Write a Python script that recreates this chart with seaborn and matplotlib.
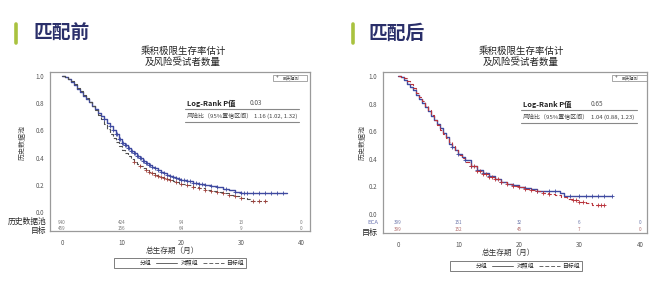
import numpy as np
import pandas as pd
import matplotlib
matplotlib.use("Agg")
import matplotlib.pyplot as plt
from matplotlib.lines import Line2D
import seaborn as sns

sns.set_theme(style="white")
plt.rcParams['font.family'] = ['Noto Sans CJK SC', 'DejaVu Sans']

# ---------------- data ----------------
panel_titles = ["匹配前", "匹配后"]
chart_title = "乘积极限生存率估计\n及风险受试者数量"
xlabel = "总生存期（月）"
ylabel = "历史数据池"
xticks = [0, 10, 20, 30, 40]
yticks = [0.0, 0.2, 0.4, 0.6, 0.8, 1.0]

# before matching: control (historical pool) KM
pre_ctrl_t = [0, 0.5, 1, 1.5, 2, 2.5, 3, 3.5, 4, 4.5, 5, 5.5, 6, 6.5, 7, 7.5, 8, 8.5, 9, 9.5,
              10, 10.5, 11, 11.5, 12, 12.5, 13, 13.5, 14, 14.5, 15, 15.5, 16, 16.5, 17, 17.5,
              18, 18.5, 19, 19.5, 20, 21, 22, 23, 24, 25, 26, 27, 28, 29, 30, 31.5, 37.6]
pre_ctrl_s = [1.0, 0.995, 0.975, 0.955, 0.93, 0.905, 0.88, 0.855, 0.83, 0.805, 0.78, 0.755, 0.73,
              0.705, 0.68, 0.655, 0.63, 0.60, 0.57, 0.54, 0.51, 0.49, 0.47, 0.45, 0.43, 0.41,
              0.395, 0.375, 0.36, 0.345, 0.33, 0.32, 0.305, 0.295, 0.285, 0.275, 0.265, 0.258,
              0.25, 0.244, 0.238, 0.226, 0.215, 0.205, 0.196, 0.19, 0.182, 0.17, 0.16, 0.15,
              0.142, 0.137, 0.137]
pre_ctrl_cens = [7, 8, 8.5, 9, 9.25, 9.5, 9.75, 10, 10.25, 10.5, 10.75, 11, 11.25, 11.5, 11.75, 12,
                 12.25, 12.5, 12.75, 13, 13.25, 13.5, 13.75, 14, 14.25, 14.5, 14.75, 15, 15.5, 16,
                 16.5, 17, 17.5, 18, 18.5, 19, 19.5, 20, 20.5, 21, 21.5, 22, 22.5, 23, 23.5, 24,
                 25, 26, 27.5, 29, 30, 30.5, 31, 32, 33, 34, 35, 36, 37]
# before matching: target KM
pre_tgt_t = [0, 0.5, 1, 1.5, 2, 2.5, 3, 3.5, 4, 4.5, 5, 5.5, 6, 6.5, 7, 7.5, 8, 8.5, 9, 9.5,
             10, 10.5, 11, 11.5, 12, 12.5, 13, 13.5, 14, 14.5, 15, 15.5, 16, 16.5, 17, 17.5,
             18, 18.5, 19, 19.5, 20, 21, 22, 23, 24, 25, 26, 27, 28, 29, 30, 31, 31.5, 34.3]
pre_tgt_s = [1.0, 0.995, 0.98, 0.96, 0.94, 0.915, 0.89, 0.86, 0.835, 0.81, 0.78, 0.75, 0.715,
             0.68, 0.645, 0.61, 0.575, 0.545, 0.515, 0.485, 0.455, 0.43, 0.41, 0.39, 0.37, 0.35,
             0.335, 0.32, 0.305, 0.295, 0.285, 0.275, 0.265, 0.255, 0.247, 0.24, 0.232, 0.225,
             0.218, 0.212, 0.206, 0.195, 0.185, 0.175, 0.165, 0.155, 0.15, 0.14, 0.125, 0.115,
             0.105, 0.095, 0.08, 0.08]
pre_tgt_cens = [12, 13, 14, 14.5, 15, 15.5, 16, 16.5, 17, 17.5, 18, 19, 20, 21, 22, 23, 24, 25,
                26, 27, 28, 29, 30, 32, 33, 34]

# after matching: ECA control KM
post_ctrl_t = [0, 0.5, 1, 1.5, 2, 2.5, 3, 3.5, 4, 4.5, 5, 5.5, 6, 6.5, 7, 7.5, 8, 8.5, 9, 9.5,
               10, 10.5, 11, 12, 13, 14, 15, 16, 17, 18, 19, 20, 21, 22, 23, 24, 26.8, 27.5, 35.4]
post_ctrl_s = [1.0, 0.99, 0.97, 0.945, 0.92, 0.895, 0.865, 0.835, 0.805, 0.775, 0.745, 0.71,
               0.68, 0.65, 0.62, 0.59, 0.555, 0.51, 0.485, 0.46, 0.435, 0.415, 0.39, 0.35, 0.32,
               0.295, 0.272, 0.252, 0.235, 0.22, 0.207, 0.196, 0.186, 0.178, 0.17, 0.165, 0.15,
               0.13, 0.13]
post_ctrl_cens = [9, 10, 11, 12, 13, 14, 15, 17, 19, 21, 23, 25, 26, 28.5, 30, 31, 32, 33, 34,
                  35.4]
# after matching: target KM
post_tgt_t = [0, 0.5, 1, 1.5, 2, 2.5, 3, 3.5, 4, 4.5, 5, 5.5, 6, 6.5, 7, 7.5, 8, 8.5, 9, 9.5,
              10, 10.5, 11, 12, 13, 14, 15, 16, 17, 18, 19, 20, 21, 22, 23, 24, 25, 26, 27, 28,
              29, 30, 31, 32, 34.2]
post_tgt_s = [1.0, 0.995, 0.985, 0.965, 0.94, 0.91, 0.88, 0.85, 0.82, 0.785, 0.75, 0.715, 0.68,
              0.645, 0.61, 0.58, 0.55, 0.52, 0.49, 0.46, 0.43, 0.405, 0.38, 0.345, 0.315, 0.29,
              0.27, 0.25, 0.233, 0.218, 0.205, 0.193, 0.182, 0.172, 0.163, 0.155, 0.148, 0.14,
              0.125, 0.11, 0.10, 0.09, 0.08, 0.065, 0.065]
post_tgt_cens = [12, 12.5, 13, 13.5, 14, 14.5, 15, 15.5, 16, 16.5, 17, 18, 19, 20, 21, 22, 23,
                 24, 25, 29, 29.5, 30, 30.5, 33, 33.5, 34]

# numbers at risk
pre_risk_ctrl = [940, 424, 94, 13, 0]
pre_risk_tgt = [459, 156, 64, 9, 0]
post_risk_ctrl = [399, 151, 32, 6, 0]
post_risk_tgt = [399, 152, 45, 7, 0]
risk_labels_pre = ["历史数据池", "目标"]
risk_labels_post = ["ECA", "目标"]

stats_rows = ["Log-Rank P值", "风险比（95%置信区间）"]
pre_stats = ["0.03", "1.16 (1.02, 1.32)"]
post_stats = ["0.65", "1.04 (0.88, 1.23)"]
legend_labels = ["分组", "对照组", "目标组"]
censor_label = "删失观测"

# ---------------- styling ----------------
W, H = 660, 288
NAVY = "#2a2f6a"
GREEN = "#a9c23f"
BLUE = "#3f4aa0"
RED = "#b8333b"
FRAME = "#9a9a9a"


def fx(px):
    return px / W


def fy(py):
    return 1 - py / H


def step_at(ts, ss, t):
    idx = np.searchsorted(np.asarray(ts), t, side="right") - 1
    return np.asarray(ss)[idx]


fig = plt.figure(figsize=(6.6, 2.88), dpi=100)
fig.patch.set_facecolor("white")

panels = [
    dict(rect=(50, 72, 310, 231), xlim=(-2.0, 41.5), ylim=(-0.140, 1.029),
         ctrl=(pre_ctrl_t, pre_ctrl_s, pre_ctrl_cens), tgt=(pre_tgt_t, pre_tgt_s, pre_tgt_cens),
         ctrl_col=BLUE, tgt_col="#4f4f4f", ctrl_m=BLUE, tgt_m="#a0403a",
         risk=(pre_risk_ctrl, pre_risk_tgt), risk_y=(-0.074, -0.125),
         risk_cols=("#777777", "#777777"), risk_labels=risk_labels_pre,
         risk_label_px=(46, 222, 231), risk_label_sizes=(5.6, 5.6), risk_label_cols=("#222222", "#222222"),
         title=panel_titles[0], title_px=(33, 33), bar_px=16,
         ctitle_px=(183, 57), ylabel_px=(23, 142), xlabel_px=(172, 251),
         stats=pre_stats, stats_px=(187, 250, 254, 103, 116, 185, 299, 109, 122),
         cens_box=(273, 75, 307, 81), legend_px=(180, 263)),
    dict(rect=(383, 72, 647, 233), xlim=(-2.48, 41.16), ylim=(-0.138, 1.029),
         ctrl=(post_ctrl_t, post_ctrl_s, post_ctrl_cens), tgt=(post_tgt_t, post_tgt_s, post_tgt_cens),
         ctrl_col=BLUE, tgt_col=RED, ctrl_m=BLUE, tgt_m=RED,
         risk=(post_risk_ctrl, post_risk_tgt), risk_y=(-0.065, -0.112),
         risk_cols=("#6a74a8", "#b06a6a"), risk_labels=risk_labels_post,
         risk_label_px=(378, 223, 232), risk_label_sizes=(4.3, 5.8), risk_label_cols=("#6a74b0", "#222222"),
         title=panel_titles[1], title_px=(368, 33), bar_px=353,
         ctitle_px=(521, 57), ylabel_px=(363, 143), xlabel_px=(508, 253),
         stats=post_stats, stats_px=(523, 591, 591, 104, 117, 521, 637, 110, 123),
         cens_box=(612, 75, 647, 81), legend_px=(516, 266)),
]

for p in panels:
    x0, y0, x1, y1 = p["rect"]
    ax = fig.add_axes([fx(x0), fy(y1), fx(x1) - fx(x0), fy(y0) - fy(y1)])
    ax.set_facecolor("white")

    for (ts, ss, cens), col, mcol, ls, lw in [
        (p["ctrl"], p["ctrl_col"], p["ctrl_m"], "-", 1.0),
        (p["tgt"], p["tgt_col"], p["tgt_m"], (0, (4, 2)), 0.8),
    ]:
        df = pd.DataFrame({"t": ts, "s": ss})
        sns.lineplot(data=df, x="t", y="s", ax=ax, color=col, linewidth=lw,
                     drawstyle="steps-post", estimator=None, sort=False, linestyle=ls)
        cdf = pd.DataFrame({"t": cens, "s": step_at(ts, ss, np.asarray(cens))})
        sns.scatterplot(data=cdf, x="t", y="s", ax=ax, marker="+", s=8,
                        color=mcol, linewidth=0.6, zorder=3)

    ax.set_xlim(*p["xlim"])
    ax.set_ylim(*p["ylim"])
    ax.set_xticks(xticks)
    ax.set_yticks(yticks)
    ax.set_xticklabels([str(v) for v in xticks])
    ax.set_yticklabels([f"{v:.1f}" for v in yticks])
    ax.tick_params(axis="both", labelsize=4.5, labelcolor="#555555", color=FRAME,
                   length=2.5, width=0.6, direction="out", pad=1.5)
    ax.tick_params(axis="x", pad=3)
    ax.set_xlabel("")
    ax.set_ylabel("")
    for sp in ax.spines.values():
        sp.set_visible(True)
        sp.set_color(FRAME)
        sp.set_linewidth(0.9)

    # numbers at risk
    for vals, yv, col in zip(p["risk"], p["risk_y"], p["risk_cols"]):
        for xv, v in zip(xticks, vals):
            ax.text(xv, yv, str(v), fontsize=3.3, color=col, ha="center", va="center")

    # risk row labels
    lx, ly1, ly2 = p["risk_label_px"]
    for lab, ly, sz, col in zip(p["risk_labels"], (ly1, ly2), p["risk_label_sizes"], p["risk_label_cols"]):
        fig.text(fx(lx), fy(ly), lab, fontsize=sz, color=col, ha="right", va="center")

    # panel heading with green bar
    tx, ty = p["title_px"]
    fig.text(fx(tx), fy(ty), p["title"], fontsize=13.5, fontweight="bold", color=NAVY,
             ha="left", va="center")
    bx = p["bar_px"]
    fig.add_artist(Line2D([fx(bx), fx(bx)], [fy(24), fy(43)], color=GREEN, linewidth=2.6,
                          transform=fig.transFigure))

    # chart title
    cx, cy = p["ctitle_px"]
    fig.text(fx(cx), fy(cy), chart_title, fontsize=6.8, color="#222222", ha="center",
             va="center", linespacing=1.15)

    # axis labels
    yx, yy = p["ylabel_px"]
    fig.text(fx(yx), fy(yy), ylabel, fontsize=5, color="#444444", rotation=90,
             ha="center", va="center")
    xx, xy = p["xlabel_px"]
    fig.text(fx(xx), fy(xy), xlabel, fontsize=5.5, color="#333333", ha="center", va="center")

    # stats table
    sx, vx1, vx2, sy1, sy2, lx0, lx1, ly_a, ly_b = p["stats_px"]
    fig.text(fx(sx), fy(sy1), stats_rows[0], fontsize=5.3, fontweight="bold",
             color="#222222", ha="left", va="center")
    fig.text(fx(vx1), fy(sy1), p["stats"][0], fontsize=4.6, color="#555555",
             ha="left", va="center")
    fig.text(fx(sx), fy(sy2), stats_rows[1], fontsize=4.3, color="#444444",
             ha="left", va="center")
    fig.text(fx(vx2), fy(sy2), p["stats"][1], fontsize=4.3, color="#444444",
             ha="left", va="center")
    for ly in (ly_a, ly_b):
        fig.add_artist(Line2D([fx(lx0), fx(lx1)], [fy(ly), fy(ly)], color="#888888",
                              linewidth=0.8, transform=fig.transFigure))

    # censor inset legend
    c0, c1, c2, c3 = p["cens_box"]
    fig.add_artist(plt.Rectangle((fx(c0), fy(c3)), fx(c2) - fx(c0), fy(c1) - fy(c3),
                                 fill=False, edgecolor="#999999", linewidth=0.6,
                                 transform=fig.transFigure))
    fig.text(fx(c0 + 3), fy((c1 + c3) / 2), "+", fontsize=3.5, color="#444444",
             ha="left", va="center")
    fig.text(fx(c0 + 10), fy((c1 + c3) / 2), censor_label, fontsize=3, color="#444444",
             ha="left", va="center")

    # bottom group legend
    handles = [Line2D([], [], linestyle="none"),
               Line2D([], [], color="#666666", linewidth=0.7),
               Line2D([], [], color="#666666", linewidth=0.7, linestyle=(0, (4, 2)))]
    lgx, lgy = p["legend_px"]
    leg = fig.legend(handles, legend_labels, loc="center", bbox_to_anchor=(fx(lgx), fy(lgy)),
                     ncol=3, fontsize=4.2, frameon=True, fancybox=False, handlelength=3.6,
                     handletextpad=0.5, columnspacing=0.8, borderpad=0.3)
    leg.get_frame().set_edgecolor("#444444")
    leg.get_frame().set_linewidth(0.6)
    leg.get_frame().set_boxstyle("square", pad=0.0)

fig.savefig("out.png", dpi=100, facecolor="white")
